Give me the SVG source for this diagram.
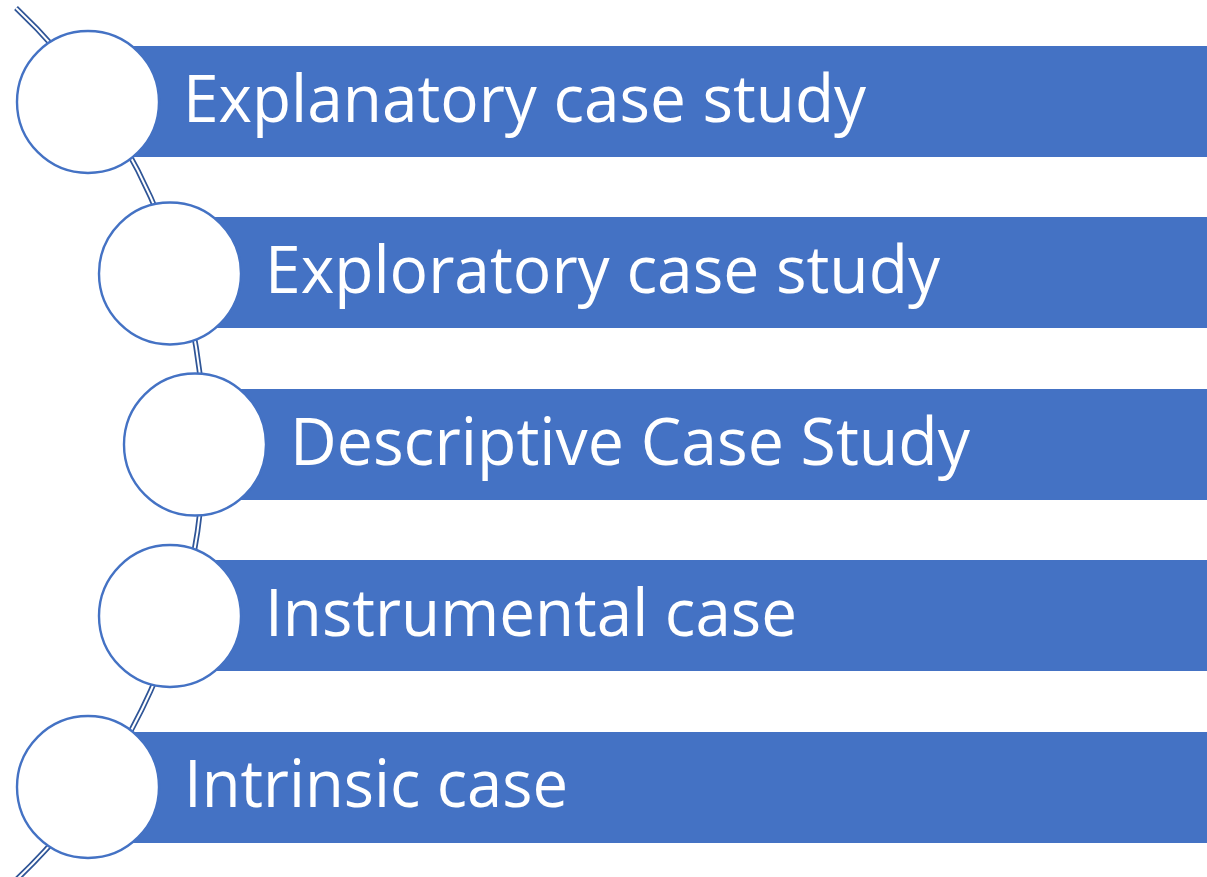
<svg xmlns="http://www.w3.org/2000/svg" width="1207" height="877" viewBox="0 0 1207 877">
<style>
.bar{fill:#4472C4}
.circ{fill:#FFFFFF;stroke:#4472C4;stroke-width:2.4}
.lbl{fill:#FFFFFF;font-family:"Open Sans","Noto Sans","Liberation Sans",sans-serif;font-size:65px}
.arcOuter{fill:none;stroke:#2F5597;stroke-width:5.5}
.arcInner{fill:none;stroke:#FFFFFF;stroke-width:2}
</style>
<rect width="1207" height="877" fill="#FFFFFF"/>
<g id="connectors">
<path class="arcOuter" d="M 16 8 A 600 600 0 0 1 16 880"/>
<path class="arcInner" d="M 16 8 A 600 600 0 0 1 16 880"/>
</g>
<g id="node1">
<rect class="bar" x="88" y="46" width="1119" height="111"/>
<circle class="circ" cx="88" cy="102" r="71"/>
<text class="lbl" x="183" y="122" textLength="683" lengthAdjust="spacingAndGlyphs">Explanatory case study</text>
</g>
<g id="node2">
<rect class="bar" x="170" y="217" width="1037" height="111"/>
<circle class="circ" cx="170" cy="273.5" r="71"/>
<text class="lbl" x="265" y="293" textLength="675" lengthAdjust="spacingAndGlyphs">Exploratory case study</text>
</g>
<g id="node3">
<rect class="bar" x="195" y="389" width="1012" height="111"/>
<circle class="circ" cx="195" cy="444.5" r="71"/>
<text class="lbl" x="290" y="465" textLength="680" lengthAdjust="spacingAndGlyphs">Descriptive Case Study</text>
</g>
<g id="node4">
<rect class="bar" x="170" y="560" width="1037" height="111"/>
<circle class="circ" cx="170" cy="616" r="71"/>
<text class="lbl" x="265" y="636" textLength="532" lengthAdjust="spacingAndGlyphs">Instrumental case</text>
</g>
<g id="node5">
<rect class="bar" x="88" y="732" width="1119" height="111"/>
<circle class="circ" cx="88" cy="787" r="71"/>
<text class="lbl" x="184" y="807" textLength="384" lengthAdjust="spacingAndGlyphs">Intrinsic case</text>
</g>
</svg>
